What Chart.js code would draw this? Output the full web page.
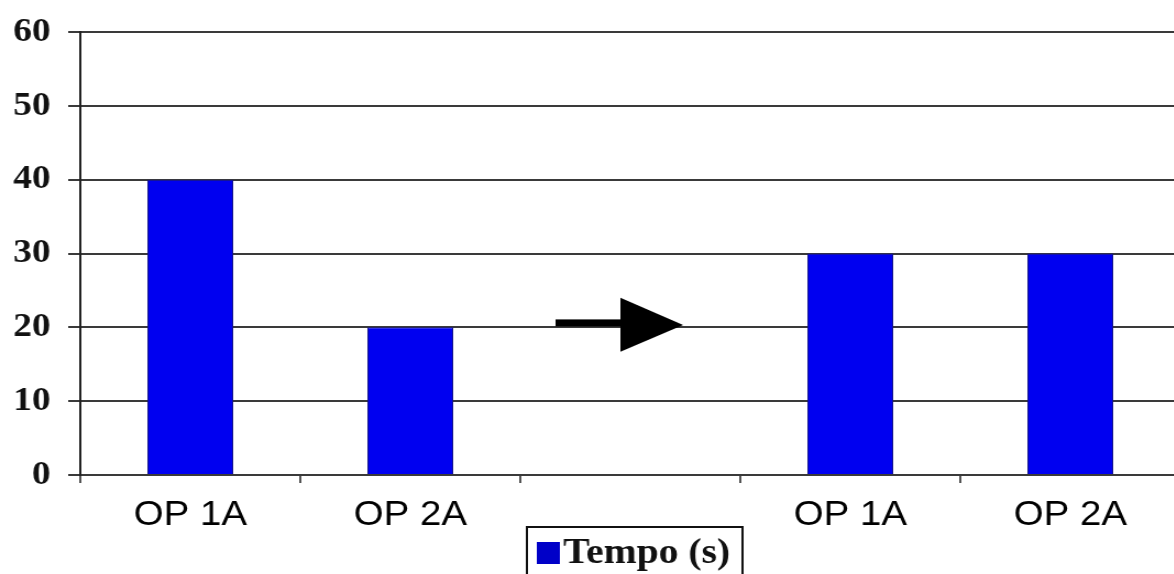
<!DOCTYPE html>
<html>
<head>
<meta charset="utf-8">
<script src="https://cdn.jsdelivr.net/npm/chart.js@4/dist/chart.umd.min.js"></script>
<style>
  html, body { margin: 0; padding: 0; background: #fff; overflow: hidden; width: 1174px; height: 574px; }
  #wrap { position: absolute; left: 0; top: 0; width: 1083px; height: 574px; transform: scaleX(1.1); transform-origin: 0 0; }
  canvas { display: block; }
</style>
</head>
<body>
<div id="wrap"><canvas id="c" width="1083" height="574"></canvas></div>
<script>
// Operation times before and after rebalancing (seconds)
const categories = ['OP 1A', 'OP 2A', '', 'OP 1A', 'OP 2A'];
const tempoSeconds = [40, 20, null, 30, 30];
const seriesLabel = 'Tempo (s)';
const yTickValues = [0, 10, 20, 30, 40, 50, 60];

const BAR_BLUE = '#0000f0';
const GRID = '#3a3a3a';

// Arrow between the two groups, given in scale units (category index, seconds)
const arrowSpec = { start: 1.66, base: 1.955, tip: 2.24, shaftY: 20.6, headTop: 24.0, headBottom: 16.7, tipY: 20.3 };

const arrowPlugin = {
  id: 'arrow',
  afterDatasetsDraw(chart) {
    const { ctx, scales: { x, y } } = chart;
    ctx.save();
    ctx.fillStyle = '#000';
    const sy = y.getPixelForValue(arrowSpec.shaftY);
    const x0 = x.getPixelForValue(arrowSpec.start);
    const xb = x.getPixelForValue(arrowSpec.base);
    ctx.fillRect(x0, sy - 3.5, xb - x0 + 2, 7);
    ctx.beginPath();
    ctx.moveTo(xb, y.getPixelForValue(arrowSpec.headTop));
    ctx.lineTo(x.getPixelForValue(arrowSpec.tip), y.getPixelForValue(arrowSpec.tipY));
    ctx.lineTo(xb, y.getPixelForValue(arrowSpec.headBottom));
    ctx.closePath();
    ctx.fill();
    ctx.restore();
  }
};

// Boxed legend under the middle (empty) category
const boxedLegend = {
  id: 'boxedLegend',
  afterDraw(chart) {
    const { ctx, scales: { x } } = chart;
    const ds = chart.data.datasets[0];
    const w = 196;
    const left = x.getPixelForValue(2) + 4 - w / 2;
    const top = 527;
    ctx.save();
    ctx.strokeStyle = '#111';
    ctx.lineWidth = 2;
    ctx.strokeRect(left, top, w, 70);
    ctx.fillStyle = '#0000c8';
    ctx.fillRect(left + 9, 542, 21, 22);
    ctx.fillStyle = '#111';
    ctx.font = 'bold 36px "Liberation Serif", "Times New Roman", serif';
    ctx.textBaseline = 'alphabetic';
    ctx.textAlign = 'left';
    ctx.fillText(ds.label, left + 33, 563);
    ctx.restore();
  }
};

new Chart(document.getElementById('c'), {
  type: 'bar',
  data: {
    labels: categories,
    datasets: [{
      label: seriesLabel,
      data: tempoSeconds,
      backgroundColor: BAR_BLUE,
      borderColor: '#14148c',
      borderWidth: 1,
      barPercentage: 0.39,
      categoryPercentage: 1.0
    }]
  },
  options: {
    responsive: false,
    animation: false,
    layout: { padding: { top: 32, right: 10, bottom: 19, left: 0 } },
    plugins: {
      legend: { display: false },
      tooltip: { enabled: false }
    },
    scales: {
      x: {
        offset: true,
        grid: { display: true, drawOnChartArea: false, drawTicks: true, tickLength: 8, offset: true, color: '#555', lineWidth: 2 },
        border: { display: true, color: GRID, width: 2 },
        ticks: {
          color: '#000',
          padding: 11,
          maxRotation: 0,
          autoSkip: false,
          font: { family: '"Liberation Sans", Arial, sans-serif', size: 35 }
        },
        afterFit(scale) { scale.height = 80; }
      },
      y: {
        min: 0,
        max: 60,
        afterBuildTicks(scale) { scale.ticks = yTickValues.map(v => ({ value: v })); },
        grid: { color: GRID, lineWidth: 2, tickLength: 11, drawTicks: true },
        border: { display: true, color: '#222', width: 2 },
        ticks: {
          color: '#111',
          padding: 16,
          font: { family: '"Liberation Serif", "Times New Roman", serif', size: 34, weight: 'bold' }
        },
        afterFit(scale) {
          scale.width = 73;
          scale.paddingTop = 0;
          scale.paddingBottom = 0;
        }
      }
    }
  },
  plugins: [arrowPlugin, boxedLegend]
});
</script>
</body>
</html>
